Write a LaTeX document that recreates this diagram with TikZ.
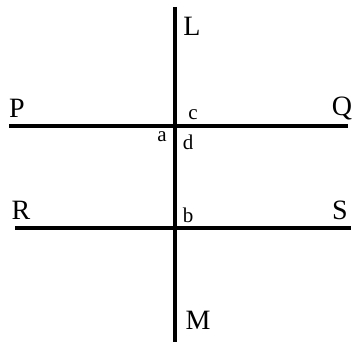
\documentclass[tikz,border=0pt]{standalone}
\usepackage{fontspec}
\setmainfont{Liberation Serif}
\begin{document}
\begin{tikzpicture}[x=1pt,y=-1pt,
  ln/.style={line width=3.2pt,black},
  biglbl/.style={font=\fontsize{28}{28}\selectfont,inner sep=0pt},
  smalllbl/.style={font=\fontsize{21}{21}\selectfont,inner sep=0pt}]
\useasboundingbox (0,0) rectangle (353,345);
\coordinate (Ltop) at (175,7);
\coordinate (Mbot) at (175,342);
\coordinate (Pend) at (9,126);
\coordinate (Qend) at (348,126);
\coordinate (Rend) at (15,228);
\coordinate (Send) at (351,228);
\draw[ln] (Ltop) -- (Mbot);
\draw[ln] (Pend) -- (Qend);
\draw[ln] (Rend) -- (Send);
\node[biglbl] (L) at (192,26) {L};
\node[biglbl] (P) at (17,108) {P};
\node[biglbl] (Q) at (342,108) {Q};
\node[biglbl] (R) at (21,210) {R};
\node[biglbl] (S) at (340,210) {S};
\node[biglbl] (M) at (198,320) {M};
\node[smalllbl] (c) at (193,115) {c};
\node[smalllbl] (a) at (162,137) {a};
\node[smalllbl] (d) at (188,142) {d};
\node[smalllbl] (b) at (188,215) {b};
\end{tikzpicture}
\end{document}
